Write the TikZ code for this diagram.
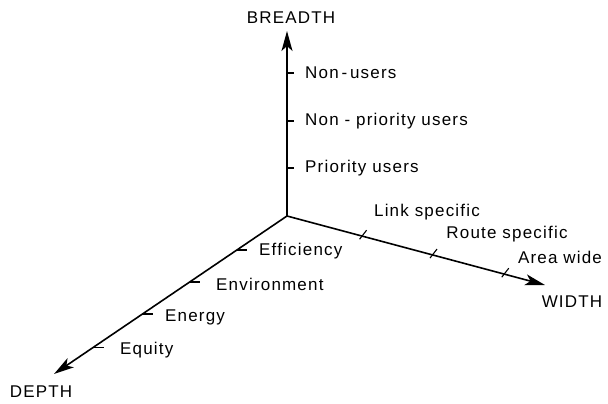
\documentclass[tikz,border=0pt]{standalone}
\usepackage{fontspec}
\setmainfont{Liberation Sans}[LetterSpace=7]
\usetikzlibrary{arrows.meta,calc}
\begin{document}
\begin{tikzpicture}[x=1pt,y=-1pt,
  axis/.style={line width=1.6pt,-{Stealth[length=20pt,width=11pt,inset=5pt]}},
  tick/.style={line width=1.1pt},
  lbl/.style={font=\fontsize{17}{19}\selectfont,inner sep=0pt,anchor=west},
  ttl/.style={font=\fontsize{17}{19}\selectfont,inner sep=0pt}]
\useasboundingbox (0,0) rectangle (608,404);
\coordinate (o) at (287,216);
\coordinate (bt) at (287,31);
\coordinate (wt) at (545,285);
\coordinate (dt) at (54,374);
\draw[axis] (o) -- (bt);
\draw[axis] (o) -- (wt);
\draw[axis] (o) -- (dt);
\node[ttl] (breadth) at (291,18) {BREADTH};
\node[ttl] (width) at (572,302) {WIDTH};
\node[ttl] (depth) at (41,392) {DEPTH};
% breadth ticks
\foreach \y/\t/\n in {73/Non\,-\,users/b1,121/Non - priority users/b2,168/Priority users/b3}{
  \draw[tick] (288,\y) -- (294,\y);
  \node[lbl] (\n) at (305,\y) {\t};
}
% width ticks
\foreach \p in {0.293,0.566,0.844}{
  \coordinate (w) at ($(o)!\p!(wt)$);
  \draw[tick] ($(w)+(-3,3)$) -- ($(w)+(4,-6)$);
}
\node[ttl] (w1) at (427,212) {Link specific};
\node[ttl] (w2) at (507,234) {Route specific};
\node[ttl] (w3) at (560,257) {Area wide};
% depth ticks
\foreach \p/\lx/\ly/\t/\n in {0.215/259/251/Efficiency/d1,0.418/216/284/Environment/d2,0.62/165/317/Energy/d3,0.83/120/350/Equity/d4}{
  \coordinate (d) at ($(o)!\p!(dt)$);
  \draw[tick] (d) -- ++(10,0);
  \node[lbl] (\n) at (\lx,\ly) {\t};
}
\end{tikzpicture}
\end{document}
